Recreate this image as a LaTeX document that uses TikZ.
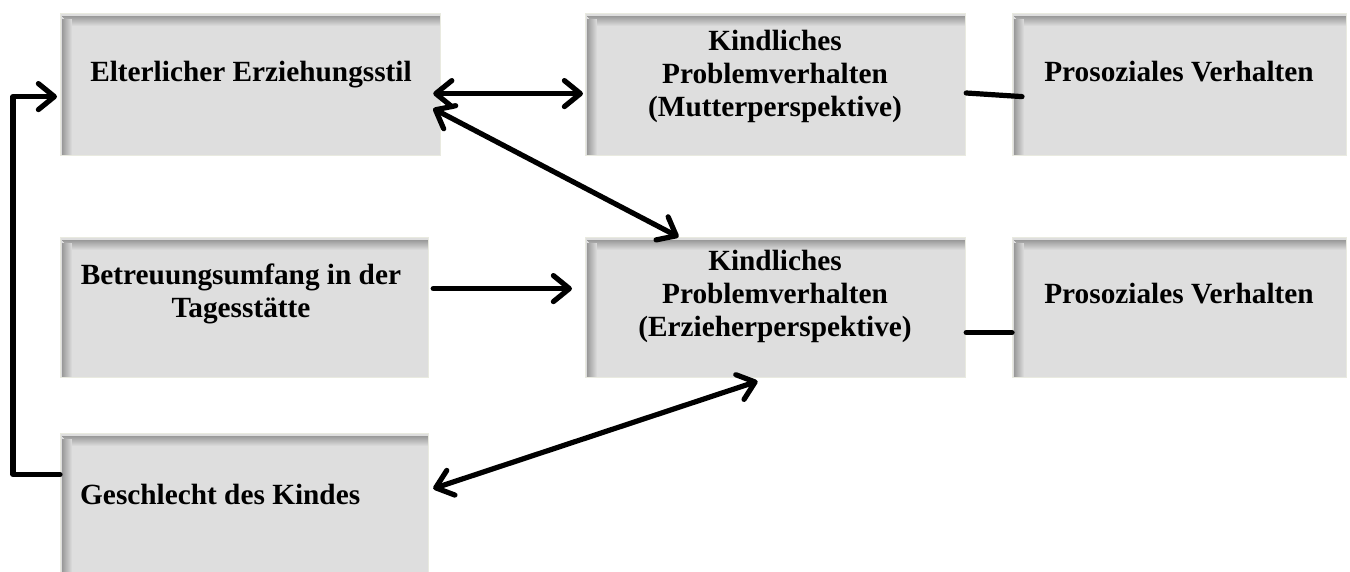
\documentclass[tikz,border=0pt]{standalone}
\usepackage{fontspec}
\setmainfont{Liberation Serif}
\usetikzlibrary{arrows.meta}
\definecolor{boxgray}{HTML}{DEDEDE}
\definecolor{boxshade}{HTML}{999999}
\definecolor{boxline}{HTML}{E9EAE0}
\tikzset{
  box/.style={draw=boxline, line width=1.2pt, fill=boxgray, inner sep=0pt,
    anchor=north west, minimum width=#1,
    path picture={
      \foreach \i in {0,...,9}{
        \pgfmathtruncatemacro{\pc}{100-10*\i}
        \fill[boxshade!\pc!boxgray]
          ([xshift=\i pt+1pt,yshift=-5pt]path picture bounding box.north west) rectangle
          ([xshift=\i pt+2pt]path picture bounding box.south west);
        \fill[boxshade!\pc!boxgray]
          ([xshift=\i pt+1pt,yshift=-\i pt-2pt]path picture bounding box.north west) rectangle
          ([yshift=-\i pt-3pt]path picture bounding box.north east);
      }
    }},
  lbl/.style={font=\fontsize{29.3}{33}\selectfont\bfseries, align=center, inner sep=0pt},
  conn/.style={line width=5.2pt, black, line cap=round, line join=round},
  tip/.style={-{Straight Barb[length=16pt,width=26pt,line cap=round,line join=round]}},
  dtip/.style={{Straight Barb[length=16pt,width=26pt,line cap=round,line join=round]}-{Straight Barb[length=16pt,width=26pt,line cap=round,line join=round]}}
}
\begin{document}
\begin{tikzpicture}[x=1pt,y=-1pt]
\useasboundingbox (0,0) rectangle (1350,572);
% boxes
\node[box=380pt, minimum height=142pt] (e)  at (60,13)   {};
\node[box=380pt, minimum height=142pt] (m)  at (585,13)  {};
\node[box=334pt, minimum height=142pt] (p1) at (1012,13) {};
\node[box=368pt, minimum height=140pt] (b)  at (60,237)  {};
\node[box=380pt, minimum height=140pt] (z)  at (585,237) {};
\node[box=334pt, minimum height=140pt] (p2) at (1012,237){};
\node[box=368pt, minimum height=140pt] (g)  at (60,433)  {};
% texts
\node[lbl] (et)  at (251,75)  {Elterlicher Erziehungsstil};
\node[lbl] (mt)  at (775,76)  {Kindliches\\Problemverhalten\\(Mutterperspektive)};
\node[lbl] (p1t) at (1179,72) {Prosoziales Verhalten};
\node[lbl] (bt)  at (241,294) {Betreuungsumfang in der\\Tagesstätte};
\node[lbl] (zt)  at (775,296) {Kindliches\\Problemverhalten\\(Erzieherperspektive)};
\node[lbl] (p2t) at (1179,294){Prosoziales Verhalten};
\node[lbl, anchor=west] (gt) at (80,494) {Geschlecht des Kindes};
% connectors
\draw[conn,dtip] ([xshift=-8pt,yshift=-9pt]e.east) -- ([xshift=-2pt,yshift=-9pt]m.west);
\draw[conn,dtip] ([xshift=-8pt,yshift=-24pt]e.east) -- ([xshift=-97pt]z.north);
\draw[conn,tip]  ([xshift=4pt,yshift=19pt]b.east) -- ([xshift=-13pt,yshift=19pt]z.west);
\draw[conn,dtip] ([xshift=4pt,yshift=15pt]g.east) -- ([xshift=-18pt,yshift=-3pt]z.south);
\draw[conn] (m.east |- 0,93) -- ([xshift=10pt,yshift=-12pt]p1.west);
\draw[conn] ([yshift=-25pt]z.east) -- ([yshift=-25pt]p2.west);
\draw[conn,tip] ([yshift=29pt]g.west) -- ++(-47,0) |- ([xshift=-3pt,yshift=-12pt]e.west);
\end{tikzpicture}
\end{document}
